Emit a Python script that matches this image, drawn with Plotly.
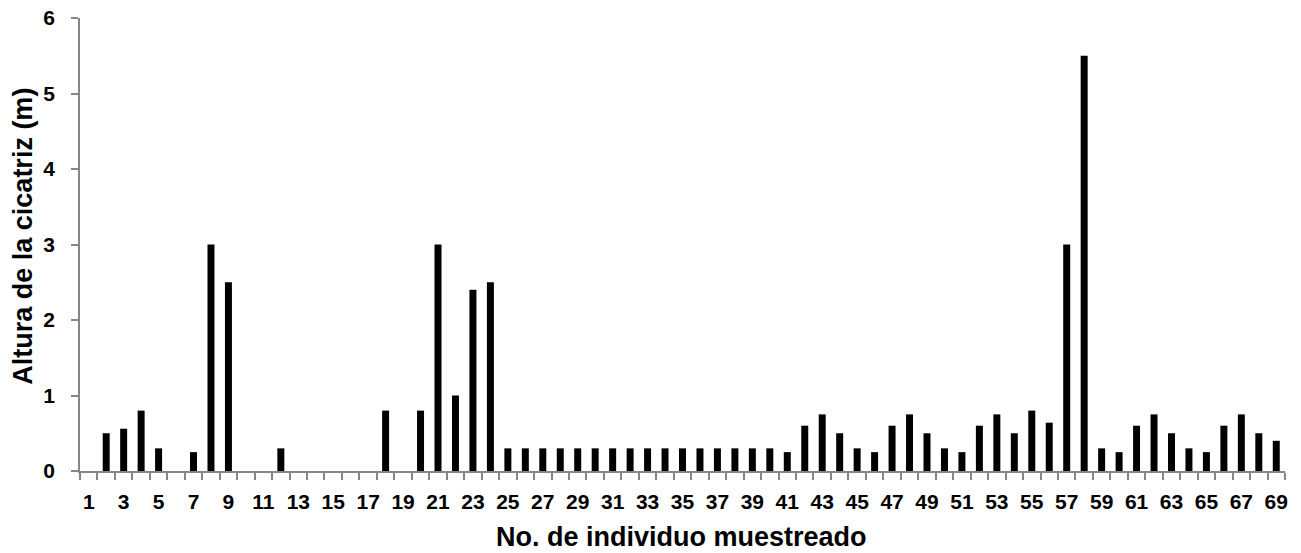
import plotly.graph_objects as go

# Individuals sampled (1..69) and scar height in metres
individuos = list(range(1, 70))
altura = [
    0, 0.5, 0.56, 0.8, 0.3, 0, 0.25, 3, 2.5, 0,
    0, 0.3, 0, 0, 0, 0, 0, 0.8, 0, 0.8,
    3, 1, 2.4, 2.5, 0.3, 0.3, 0.3, 0.3, 0.3, 0.3,
    0.3, 0.3, 0.3, 0.3, 0.3, 0.3, 0.3, 0.3, 0.3, 0.3,
    0.25, 0.6, 0.75, 0.5, 0.3, 0.25, 0.6, 0.75, 0.5, 0.3,
    0.25, 0.6, 0.75, 0.5, 0.8, 0.64, 3, 5.5, 0.3, 0.25,
    0.6, 0.75, 0.5, 0.3, 0.25, 0.6, 0.75, 0.5, 0.4,
]
x_tick_labels = [str(i) for i in range(1, 70, 2)]
y_ticks = [0, 1, 2, 3, 4, 5, 6]

axis_grey = "#868686"
font_family = "Liberation Sans, Arial, sans-serif"

fig = go.Figure(
    go.Bar(
        x=individuos,
        y=altura,
        marker=dict(color="black", line=dict(width=0)),
        width=0.4,
    )
)

fig.update_layout(
    width=1301,
    height=553,
    margin=dict(l=80, r=16, t=18, b=82),
    paper_bgcolor="white",
    plot_bgcolor="white",
    showlegend=False,
    font=dict(family=font_family, color="black"),
)

fig.update_xaxes(
    range=[0.5, 69.5],
    tickvals=[int(v) for v in x_tick_labels],
    ticktext=x_tick_labels,
    ticks="",
    ticklabelstandoff=11,
    tickfont=dict(size=21, family=font_family, color="black", weight="bold"),
    showline=True,
    linecolor=axis_grey,
    linewidth=1.5,
    showgrid=False,
    zeroline=False,
    automargin=False,
    minor=dict(tick0=0.5, dtick=1, ticks="outside", ticklen=7,
               tickcolor=axis_grey, tickwidth=1.5, showgrid=False),
)

fig.update_yaxes(
    range=[0, 6],
    tickvals=y_ticks,
    ticks="outside",
    ticklen=7,
    tickcolor=axis_grey,
    tickwidth=1.5,
    ticklabelstandoff=12,
    tickfont=dict(size=21, family=font_family, color="black", weight="bold"),
    showline=True,
    linecolor=axis_grey,
    linewidth=1.5,
    showgrid=False,
    zeroline=False,
    automargin=False,
)

title_font = dict(size=27, family=font_family, color="black")

# Horizontal axis title
fig.add_annotation(
    text="<b>No. de individuo muestreado</b>",
    xref="paper", yref="paper",
    x=0.499, y=-0.146,
    xanchor="center", yanchor="middle",
    showarrow=False,
    font=title_font,
)

# Vertical axis title, placed slightly above the plot-area centre
fig.add_annotation(
    text="<b>Altura de la cicatriz (m)</b>",
    xref="paper", yref="paper",
    x=-0.047, y=0.518,
    xanchor="center", yanchor="middle",
    textangle=-90,
    showarrow=False,
    font=title_font,
)

fig.write_html("out.html")
